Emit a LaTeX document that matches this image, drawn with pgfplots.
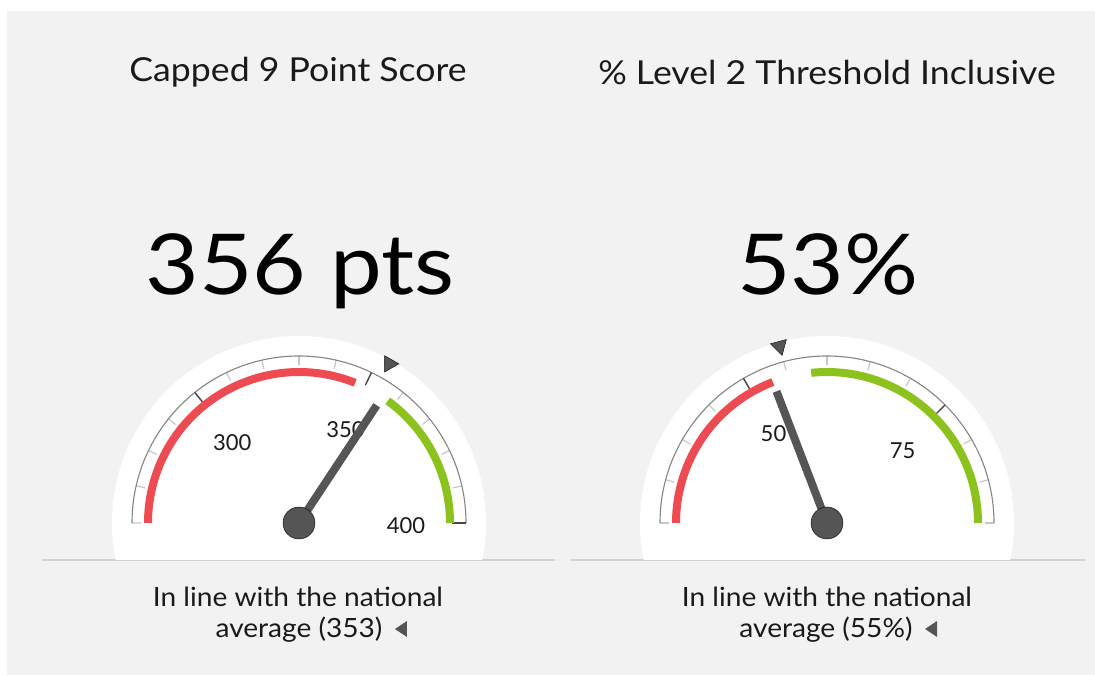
\documentclass[border=0pt]{standalone}
\usepackage{fontspec}
\setmainfont{Lato}
\usepackage{graphicx}
\usepackage{pgfplots}
\usepackage{pgfplotstable}
\pgfplotsset{compat=1.18}

\definecolor{bg}{HTML}{F2F2F2}
\definecolor{bandred}{HTML}{EE4A52}
\definecolor{bandgreen}{HTML}{8CC21E}
\definecolor{needle}{HTML}{555555}
\definecolor{txt}{HTML}{1A1A1A}
\definecolor{rule}{HTML}{D2D2D2}

% gauge A: Capped 9 Point Score, scale 260..400
\pgfplotstableread{
v r
356 0
356 141
}\needleA
\pgfplotstableread{
v r
353 183
}\avgA
% gauge B: % Level 2 Threshold Inclusive, scale 30..90
\pgfplotstableread{
v r
53 0
53 141
}\needleB
\pgfplotstableread{
v r
55 183
}\avgB

% frame of one gauge: #1,#2 centre, #3 low, #4 second tick, #5 high, #6 major ticks
\newcommand\gaugeframe[6]{%
  \begin{scope}[shift={(#1,#2)}]
    \begin{scope}
      \clip (-200,-37) rectangle (200,200);
      \fill[white] (0,0) circle[radius=187pt];
    \end{scope}
    \foreach \v in {#3,#4,...,#5}{%
      \pgfmathsetmacro\a{180/(#5-#3)*(#5-\v)}
      \draw[color=black!22, line width=1.2pt] (\a:158pt) -- (\a:167pt);
    }
    \draw[color=black!48, line width=1.1pt] (167pt,0) arc[start angle=0, end angle=180, radius=167pt];
    \foreach \v in {#6}{%
      \pgfmathsetmacro\a{180/(#5-#3)*(#5-\v)}
      \draw[color=black!72, line width=1.4pt] (\a:153pt) -- (\a:167pt);
      \node[font=\fontsize{22}{24}\selectfont, text=txt, yshift=-3pt] at (\a:107pt) {\v};
    }
  \end{scope}}

\newcommand\wide[2][1.06]{\scalebox{#1}[1]{#2}}

\begin{document}
\begin{tikzpicture}[x=1pt, y=1pt]
  \fill[white] (0,0) rectangle (1095,675);
  \fill[bg] (7,0) rectangle (1095,664);
  \draw[rule, line width=2pt] (42,115) -- (555,115);
  \draw[rule, line width=2pt] (571,115) -- (1085,115);

  \gaugeframe{299}{152}{260}{270}{400}{300,350,400}
  \gaugeframe{827}{152}{30}{35}{90}{50,75}

  \begin{axis}[
    x=1pt, y=1pt,
    xmin=0, xmax=1095, ymin=0, ymax=675,
    enlargelimits=false,
    at={(0,0)}, anchor=origin,
    hide axis, clip=false,
  ]
    % coloured bands
    \draw[bandred, line width=8pt] (axis cs:148,152) arc[start angle=180, end angle={180/140*(400-347)}, radius=151pt];
    \draw[bandgreen, line width=8pt] (axis cs:450,152) arc[start angle=0, end angle={180/140*(400-358)}, radius=151pt];
    \draw[bandred, line width=8pt] (axis cs:676,152) arc[start angle=180, end angle={180/60*(90-53)}, radius=151pt];
    \draw[bandgreen, line width=8pt] (axis cs:978,152) arc[start angle=0, end angle={180/60*(90-58)}, radius=151pt];

    % needles and hubs
    \addplot[needle, line width=8pt] table[
      x expr={299+\thisrow{r}*cos(180/140*(400-\thisrow{v}))},
      y expr={152+\thisrow{r}*sin(180/140*(400-\thisrow{v}))}] {\needleA};
    \addplot[only marks, mark=*, mark size=16pt, mark options={fill=needle, draw=none},
      skip coords between index={1}{2}] table[
      x expr={299+\thisrow{r}*cos(180/140*(400-\thisrow{v}))},
      y expr={152+\thisrow{r}*sin(180/140*(400-\thisrow{v}))}] {\needleA};
    \addplot[needle, line width=8pt] table[
      x expr={827+\thisrow{r}*cos(180/60*(90-\thisrow{v}))},
      y expr={152+\thisrow{r}*sin(180/60*(90-\thisrow{v}))}] {\needleB};
    \addplot[only marks, mark=*, mark size=16pt, mark options={fill=needle, draw=none},
      skip coords between index={1}{2}] table[
      x expr={827+\thisrow{r}*cos(180/60*(90-\thisrow{v}))},
      y expr={152+\thisrow{r}*sin(180/60*(90-\thisrow{v}))}] {\needleB};

    % national average markers
    \addplot[only marks, mark=triangle*, mark size=9.5pt,
      mark options={fill=needle, draw=none, rotate=-90}] table[
      x expr={299+\thisrow{r}*cos(180/140*(400-\thisrow{v}))},
      y expr={152+\thisrow{r}*sin(180/140*(400-\thisrow{v}))}] {\avgA};
    \addplot[only marks, mark=triangle*, mark size=9.5pt,
      mark options={fill=needle, draw=none, rotate=-165}] table[
      x expr={827+\thisrow{r}*cos(180/60*(90-\thisrow{v}))},
      y expr={152+\thisrow{r}*sin(180/60*(90-\thisrow{v}))}] {\avgB};
  \end{axis}

  % titles and values
  \node[font=\fontsize{33}{38}\selectfont, text=txt] at (298,603) {\wide[1.08]{Capped 9 Point Score}};
  \node[font=\fontsize{33}{38}\selectfont, text=txt] at (827,603) {\wide[1.08]{\% Level 2 Threshold Inclusive}};
  \node[font=\fontsize{84}{90}\selectfont, text=black, anchor=base] at (300,380) {\wide[1.1]{356 pts}};
  \node[font=\fontsize{84}{90}\selectfont, text=black, anchor=base] at (828,380) {\wide[1.1]{53\%}};

  % captions
  \node[font=\fontsize{26.5}{30}\selectfont, text=txt] at (298,78) {\wide{In line with the national}};
  \node[font=\fontsize{26.5}{30}\selectfont, text=txt] (capA) at (299,45) {\wide{average (353)}};
  \fill[needle] ([xshift=9pt,yshift=1pt]capA.east) -- ++(12,8) -- ++(0,-16) -- cycle;
  \node[font=\fontsize{26.5}{30}\selectfont, text=txt] at (827,78) {\wide{In line with the national}};
  \node[font=\fontsize{26.5}{30}\selectfont, text=txt] (capB) at (826,45) {\wide{average (55\%)}};
  \fill[needle] ([xshift=9pt,yshift=1pt]capB.east) -- ++(12,8) -- ++(0,-16) -- cycle;
\end{tikzpicture}
\end{document}
